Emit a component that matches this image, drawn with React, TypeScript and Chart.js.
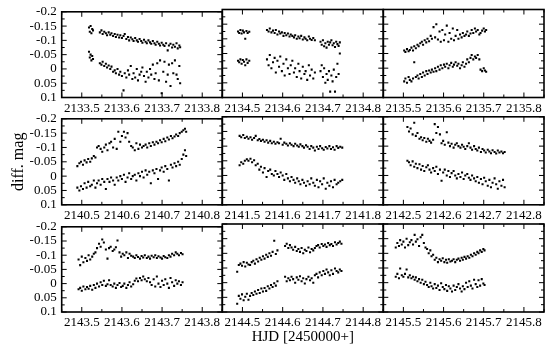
import React, { useEffect, useRef } from "react";
import { Chart, registerables } from "chart.js";

Chart.register(...registerables);
Chart.defaults.font.family = '"Liberation Serif", "DejaVu Serif", serif';
Chart.defaults.color = "#000";

// Base day (HJD - 2450000) of each panel, row by row
const days = [2133, 2134, 2135, 2140, 2141, 2142, 2143, 2144, 2145];
const yTickValues = [-0.2, -0.15, -0.1, -0.05, 0, 0.05, 0.1];
const xTickOffsets = [0.5, 0.6, 0.7, 0.8];
const yLabel = "diff. mag";
const xLabel = "HJD [2450000+]";

// Panel 1 (2133)
const t1 = [.518,.520,.522,.524,.526,.528,.545,.549,.552,.556,.560,.563,.567,.571,.574,.578,.582,.585,.589,.593,.596,.600,.604,.607,.611,.615,.618,.622,.626,.629,.633,.637,.640,.644,.648,.651,.655,.659,.662,.666,.670,.673,.677,.681,.684,.688,.692,.695,.699,.703,.706,.710,.714,.717,.721,.725,.728,.732,.736,.739,.743,.745];
const a1 = [-0.145,-0.13,-0.15,-0.125,-0.14,-0.135,-0.128,-0.135,-0.122,-0.13,-0.125,-0.118,-0.128,-0.12,-0.125,-0.115,-0.122,-0.112,-0.12,-0.11,-0.118,-0.108,-0.115,-0.122,-0.105,-0.112,-0.1,-0.11,-0.104,-0.098,-0.108,-0.1,-0.095,-0.105,-0.098,-0.092,-0.102,-0.095,-0.09,-0.1,-0.093,-0.088,-0.098,-0.09,-0.085,-0.095,-0.088,-0.082,-0.092,-0.085,-0.08,-0.09,-0.065,-0.082,-0.088,-0.075,-0.085,-0.078,-0.09,-0.072,-0.082,-0.076];
const b1 = [-0.06,-0.04,-0.05,-0.03,-0.045,-0.035,-0.02,-0.015,-0.025,-0.01,-0.018,-0.005,-0.012,0.0,-0.008,0.01,0.005,0.015,0.0,0.02,0.01,0.025,0.075,0.015,0.03,0.005,0.02,-0.01,0.035,0.015,0.03,0.0,0.04,0.02,0.01,-0.005,0.025,0.045,0.01,0.03,0.0,0.02,-0.015,0.035,0.015,-0.02,0.04,-0.03,0.085,0.01,-0.025,0.045,0.02,-0.015,0.06,-0.02,0.015,-0.03,0.02,0.035,-0.01,0.05];

// Panel 2 (2134)
const t2 = [.489,.492,.495,.498,.501,.504,.507,.510,.513,.517,.561,.565,.568,.572,.576,.580,.583,.587,.591,.594,.598,.602,.605,.609,.613,.617,.620,.624,.628,.631,.635,.639,.642,.646,.650,.654,.657,.661,.665,.668,.672,.676,.680,.694,.697,.700,.703,.706,.709,.712,.715,.718,.721,.724,.727,.730,.733,.736,.739,.742];
const a2 = [-0.125,-0.12,-0.13,-0.118,-0.128,-0.122,-0.1,-0.127,-0.12,-0.124,-0.13,-0.125,-0.135,-0.122,-0.128,-0.12,-0.13,-0.115,-0.125,-0.118,-0.122,-0.11,-0.12,-0.112,-0.118,-0.108,-0.115,-0.11,-0.105,-0.112,-0.1,-0.108,-0.102,-0.11,-0.098,-0.105,-0.1,-0.095,-0.108,-0.1,-0.096,-0.103,-0.095,-0.09,-0.08,-0.095,-0.075,-0.085,-0.07,-0.09,-0.08,-0.088,-0.095,-0.078,-0.085,-0.072,-0.09,-0.082,-0.076,-0.088];
const b2 = [-0.025,-0.02,-0.03,-0.015,-0.028,-0.022,-0.01,-0.03,-0.018,-0.025,-0.03,-0.01,-0.045,0.0,-0.02,-0.035,0.015,-0.025,-0.005,-0.04,0.01,-0.015,0.025,-0.03,0.0,0.02,-0.01,-0.025,0.015,0.0,0.03,-0.015,0.01,0.035,-0.005,0.02,0.01,0.04,-0.01,0.025,0.005,0.035,0.015,0.01,-0.01,0.03,0.0,0.05,0.02,0.04,0.01,0.08,0.025,0.045,0.005,0.08,0.03,-0.015,0.02,-0.05];

// Panel 3 (2135)
const t3 = [.502,.505,.509,.513,.516,.520,.524,.527,.531,.535,.538,.542,.546,.549,.553,.557,.560,.564,.568,.571,.575,.579,.582,.586,.590,.593,.597,.601,.604,.608,.612,.615,.619,.623,.626,.630,.634,.637,.641,.645,.648,.652,.656,.659,.663,.667,.670,.674,.678,.681,.685,.689,.692,.696,.700,.703,.706];
const a3 = [-0.06,-0.055,-0.065,-0.058,-0.062,-0.07,-0.06,-0.075,-0.068,-0.08,-0.075,-0.085,-0.09,-0.08,-0.095,-0.088,-0.1,-0.092,-0.11,-0.1,-0.14,-0.105,-0.15,-0.098,-0.125,-0.09,-0.13,-0.095,-0.115,-0.145,-0.09,-0.12,-0.1,-0.135,-0.095,-0.11,-0.13,-0.1,-0.115,-0.105,-0.12,-0.11,-0.115,-0.125,-0.11,-0.118,-0.13,-0.12,-0.135,-0.125,-0.13,-0.115,-0.12,-0.128,-0.135,-0.125,-0.13];
const b3 = [0.045,0.035,0.05,0.03,0.04,0.045,0.035,-0.02,0.03,0.025,0.035,0.02,0.03,0.015,0.025,0.01,0.02,0.008,0.015,0.005,0.012,0.0,0.01,-0.005,0.005,-0.01,0.0,-0.012,-0.005,-0.015,0.0,-0.01,-0.018,-0.005,-0.012,-0.02,-0.008,-0.015,0.0,-0.01,-0.02,-0.005,-0.015,-0.03,-0.02,-0.035,-0.045,-0.03,-0.04,-0.035,-0.045,-0.03,0.005,0.01,0.0,0.008,0.012];

// Panel 4 (2140)
const t4 = [.489,.494,.498,.503,.507,.512,.516,.521,.525,.530,.534,.538,.542,.547,.551,.556,.560,.564,.569,.573,.578,.582,.587,.591,.596,.600,.605,.609,.614,.618,.623,.627,.632,.636,.641,.645,.650,.654,.659,.663,.668,.672,.677,.681,.686,.690,.695,.699,.704,.708,.713,.717,.722,.726,.731,.735,.740,.744,.749,.753,.757,.760];
const a4 = [-0.035,-0.045,-0.05,-0.04,-0.055,-0.048,-0.06,-0.05,-0.062,-0.07,-0.065,-0.1,-0.105,-0.095,-0.085,-0.1,-0.11,-0.09,-0.115,-0.12,-0.1,-0.13,-0.095,-0.155,-0.12,-0.14,-0.155,-0.135,-0.15,-0.12,-0.105,-0.1,-0.09,-0.115,-0.095,-0.11,-0.1,-0.105,-0.11,-0.1,-0.115,-0.105,-0.118,-0.11,-0.12,-0.115,-0.125,-0.118,-0.13,-0.122,-0.135,-0.128,-0.14,-0.132,-0.138,-0.145,-0.14,-0.15,-0.155,-0.16,-0.165,-0.155];
const b4 = [0.04,0.05,0.035,0.045,0.025,0.04,0.02,0.035,0.03,0.015,0.04,0.025,0.015,0.03,0.01,0.02,0.045,0.01,0.02,0.005,0.015,0.03,0.005,0.015,0.0,0.01,-0.005,0.02,0.005,-0.01,0.01,0.0,-0.005,0.015,-0.01,0.0,-0.015,0.005,-0.02,-0.005,-0.015,0.025,-0.02,-0.01,-0.025,0.01,-0.02,-0.03,-0.015,-0.035,-0.025,0.015,-0.04,-0.03,-0.045,-0.035,-0.05,-0.04,-0.06,-0.075,-0.09,-0.07];

// Panel 5 (2141)
const t5 = [.493,.497,.502,.506,.511,.515,.520,.524,.529,.533,.538,.542,.546,.551,.555,.560,.564,.569,.573,.578,.582,.587,.591,.595,.600,.604,.609,.613,.618,.622,.627,.631,.636,.640,.644,.649,.653,.658,.662,.667,.671,.676,.680,.685,.689,.693,.698,.702,.707,.711,.716,.720,.725,.729,.734,.738,.743,.748];
const a5 = [-0.135,-0.13,-0.138,-0.128,-0.132,-0.125,-0.13,-0.122,-0.128,-0.135,-0.12,-0.124,-0.118,-0.122,-0.115,-0.12,-0.112,-0.118,-0.11,-0.115,-0.108,-0.113,-0.11,-0.125,-0.105,-0.112,-0.108,-0.102,-0.11,-0.105,-0.1,-0.108,-0.102,-0.098,-0.106,-0.1,-0.095,-0.103,-0.098,-0.09,-0.1,-0.095,-0.085,-0.098,-0.09,-0.1,-0.093,-0.088,-0.097,-0.092,-0.1,-0.09,-0.096,-0.088,-0.1,-0.094,-0.098,-0.095];
const b5 = [-0.035,-0.045,-0.04,-0.05,-0.055,-0.05,-0.057,-0.045,-0.052,-0.035,-0.04,-0.02,-0.03,-0.01,-0.025,0.005,-0.015,-0.02,-0.005,0.0,-0.015,-0.005,0.005,-0.01,0.0,0.015,-0.005,0.01,0.02,0.005,0.015,0.025,0.01,0.02,0.03,0.015,0.025,0.035,0.02,0.03,0.01,0.025,0.035,0.015,0.04,0.02,0.03,0.01,0.045,0.025,0.035,0.02,0.04,0.015,0.03,0.025,0.02,0.015];

// Panel 6 (2142)
const t6 = [.510,.514,.518,.523,.527,.531,.535,.540,.544,.548,.552,.557,.561,.565,.569,.574,.578,.582,.586,.591,.595,.599,.603,.608,.612,.616,.620,.625,.629,.633,.637,.642,.646,.650,.654,.659,.663,.667,.671,.676,.680,.684,.688,.693,.697,.701,.705,.710,.714,.718,.722,.727,.731,.735,.739,.744,.748,.752];
const a6 = [-0.165,-0.15,-0.16,-0.14,-0.18,-0.135,-0.145,-0.125,-0.13,-0.12,-0.128,-0.115,-0.125,-0.118,-0.112,-0.122,-0.175,-0.145,-0.165,-0.14,-0.11,-0.118,-0.105,-0.147,-0.112,-0.1,-0.108,-0.095,-0.105,-0.11,-0.1,-0.095,-0.105,-0.098,-0.09,-0.1,-0.11,-0.095,-0.088,-0.1,-0.09,-0.085,-0.095,-0.08,-0.09,-0.085,-0.078,-0.088,-0.082,-0.076,-0.086,-0.08,-0.075,-0.085,-0.078,-0.082,-0.076,-0.08];
const b6 = [-0.05,-0.045,-0.035,-0.048,-0.03,-0.04,-0.025,-0.038,-0.02,-0.032,-0.015,-0.028,-0.035,-0.02,-0.01,-0.025,-0.015,-0.03,-0.005,-0.02,0.018,-0.01,-0.02,0.0,-0.015,0.005,-0.008,-0.015,0.0,0.01,-0.005,0.005,-0.01,0.012,0.0,-0.005,0.008,0.015,0.0,0.01,0.02,0.005,0.025,0.012,0.03,0.008,0.02,0.035,0.015,0.04,0.025,0.01,0.03,0.045,0.02,0.035,0.015,0.04];

// Panel 7 (2143)
const t7 = [.492,.496,.500,.504,.509,.513,.517,.521,.526,.530,.534,.538,.543,.547,.551,.555,.560,.564,.568,.572,.577,.581,.585,.589,.594,.598,.602,.606,.611,.615,.619,.623,.628,.632,.636,.640,.645,.649,.653,.657,.662,.666,.670,.674,.679,.683,.687,.691,.696,.700,.704,.708,.713,.717,.721,.725,.730,.734,.738,.742,.747,.751];
const a7 = [-0.085,-0.065,-0.095,-0.075,-0.09,-0.08,-0.1,-0.085,-0.095,-0.105,-0.11,-0.125,-0.14,-0.13,-0.155,-0.145,-0.12,-0.088,-0.125,-0.13,-0.115,-0.12,-0.128,-0.152,-0.11,-0.095,-0.105,-0.1,-0.11,-0.09,-0.105,-0.098,-0.095,-0.09,-0.1,-0.094,-0.088,-0.097,-0.092,-0.1,-0.09,-0.095,-0.088,-0.098,-0.093,-0.1,-0.09,-0.096,-0.092,-0.088,-0.097,-0.093,-0.09,-0.1,-0.095,-0.105,-0.1,-0.11,-0.105,-0.1,-0.108,-0.103];
const b7 = [0.02,0.015,0.025,0.01,0.02,0.012,0.018,0.008,0.022,0.005,0.015,0.0,0.01,-0.005,0.005,-0.01,0.008,0.002,-0.012,0.005,0.01,0.0,0.015,0.005,-0.002,0.012,0.008,0.0,0.015,0.005,-0.005,0.01,0.002,-0.01,-0.018,-0.008,-0.02,-0.012,-0.025,-0.015,-0.008,-0.02,-0.005,0.005,-0.015,0.01,-0.025,0.0,0.012,-0.01,0.005,-0.015,0.0,0.015,-0.02,-0.005,0.008,-0.012,0.0,-0.008,0.005,-0.005];

// Panel 8 (2144)
const t8 = [.487,.491,.495,.499,.503,.507,.511,.515,.519,.523,.527,.531,.535,.539,.543,.547,.551,.555,.559,.563,.567,.571,.575,.579,.583,.587,.606,.610,.614,.618,.622,.626,.631,.635,.639,.643,.647,.651,.655,.659,.664,.668,.672,.676,.680,.684,.688,.692,.697,.701,.705,.709,.713,.717,.721,.725,.730,.734,.738,.742,.746];
const a8 = [-0.037,-0.06,-0.065,-0.058,-0.07,-0.055,-0.068,-0.062,-0.06,-0.07,-0.075,-0.065,-0.08,-0.072,-0.085,-0.078,-0.09,-0.082,-0.095,-0.088,-0.1,-0.092,-0.105,-0.143,-0.098,-0.11,-0.125,-0.133,-0.118,-0.128,-0.12,-0.112,-0.122,-0.108,-0.115,-0.105,-0.118,-0.1,-0.112,-0.108,-0.12,-0.104,-0.115,-0.11,-0.118,-0.125,-0.128,-0.12,-0.132,-0.125,-0.13,-0.122,-0.135,-0.128,-0.132,-0.125,-0.138,-0.13,-0.135,-0.14,-0.133];
const b8 = [0.072,0.045,0.055,0.04,0.06,0.048,0.038,0.058,0.045,0.035,0.042,0.03,0.038,0.025,0.035,0.02,0.03,0.018,0.028,0.012,0.02,0.008,0.015,0.002,0.01,-0.005,-0.02,-0.005,-0.015,-0.008,-0.02,-0.012,0.0,-0.018,-0.01,-0.022,-0.005,-0.015,0.003,-0.012,-0.02,-0.008,-0.015,0.0,-0.025,-0.03,-0.018,-0.035,-0.025,-0.04,-0.03,-0.045,-0.035,-0.025,-0.042,-0.03,-0.048,-0.04,-0.035,-0.045,-0.04];

// Panel 9 (2145)
const t9 = [.481,.485,.489,.492,.496,.500,.504,.508,.512,.516,.520,.524,.528,.531,.535,.539,.543,.547,.551,.555,.559,.563,.567,.570,.574,.578,.582,.586,.590,.594,.598,.602,.606,.609,.613,.617,.621,.625,.629,.633,.637,.641,.645,.648,.652,.656,.660,.664,.668,.672,.676,.680,.684,.687,.691,.695,.699,.702];
const a9 = [-0.12,-0.135,-0.125,-0.145,-0.13,-0.14,-0.12,-0.15,-0.128,-0.138,-0.145,-0.13,-0.163,-0.14,-0.148,-0.125,-0.155,-0.163,-0.135,-0.12,-0.115,-0.1,-0.11,-0.09,-0.095,-0.078,-0.085,-0.07,-0.08,-0.075,-0.083,-0.07,-0.078,-0.068,-0.08,-0.072,-0.075,-0.08,-0.07,-0.078,-0.082,-0.075,-0.085,-0.078,-0.088,-0.082,-0.09,-0.085,-0.095,-0.09,-0.1,-0.095,-0.105,-0.1,-0.11,-0.105,-0.115,-0.11];
const b9 = [-0.02,-0.03,-0.015,-0.048,-0.025,-0.02,-0.03,-0.045,-0.018,-0.025,-0.015,-0.02,-0.01,-0.018,-0.005,-0.012,0.0,-0.01,0.005,-0.003,0.008,0.015,0.0,0.012,0.02,0.005,0.018,0.01,0.025,0.002,0.015,0.022,0.008,0.028,0.012,0.02,0.03,0.01,0.025,0.015,0.005,0.02,0.03,0.012,0.022,0.0,0.015,-0.005,0.01,0.02,-0.01,0.005,0.015,-0.008,0.01,-0.012,0.003,0.008];

const times = [t1, t2, t3, t4, t5, t6, t7, t8, t9];
const upper = [a1, a2, a3, a4, a5, a6, a7, a8, a9];
const lower = [b1, b2, b3, b4, b5, b6, b7, b8, b9];

// Layout (pixels)
const COL_L = [61.7, 222.3, 383.3];
const COL_R = [222.3, 383.3, 544];
const ROW_T = [9.5, 116.8, 224];
const PLOT_H = 88;
const PAGE_H = 345;

const framePlugin = {
  id: "frameTicks",
  afterDatasetsDraw(chart: any) {
    const { ctx, chartArea: a, scales } = chart;
    const xs = scales.x;
    const ys = scales.y;
    ctx.save();
    ctx.strokeStyle = "#000";
    ctx.lineWidth = 1;
    ctx.beginPath();
    for (let k = 0; k <= 8; k++) {
      const px = xs.getPixelForValue(xs.min + k * 0.05);
      const len = k % 2 === 1 ? 5 : 3;
      ctx.moveTo(px, a.bottom);
      ctx.lineTo(px, a.bottom - len);
      ctx.moveTo(px, a.top);
      ctx.lineTo(px, a.top + len);
    }
    for (let k = 0; k <= 12; k++) {
      const py = ys.getPixelForValue(-0.2 + k * 0.025);
      const len = k % 2 === 0 ? 5 : 3;
      ctx.moveTo(a.left, py);
      ctx.lineTo(a.left + len, py);
      ctx.moveTo(a.right, py);
      ctx.lineTo(a.right - len, py);
    }
    ctx.stroke();
    ctx.lineWidth = 1.6;
    ctx.strokeRect(a.left, a.top, a.right - a.left, a.bottom - a.top);
    ctx.restore();
  },
};

function Panel({ idx }: { idx: number }) {
  const ref = useRef<HTMLCanvasElement | null>(null);
  const r = Math.floor(idx / 3);
  const c = idx % 3;
  const L = c === 0 ? 0 : Math.floor(COL_L[c] - 8);
  const W = Math.ceil(COL_R[c] + 6) - L;
  const T = Math.floor(ROW_T[r] - 10);
  const plotBottom = ROW_T[r] + PLOT_H;
  const H = r === 2 ? PAGE_H - T : Math.ceil(plotBottom + 20) - T;

  useEffect(() => {
    const canvas = ref.current;
    if (!canvas) return;
    const day = days[idx];
    const padTop = ROW_T[r] - T;
    const padLeft = c === 0 ? 0 : COL_L[c] - L;
    const padRight = W - (COL_R[c] - L);
    const xAxisH = H - padTop - PLOT_H;
    const pointStyle = {
      showLine: false,
      pointStyle: "rect" as const,
      pointRadius: 1.45,
      pointBorderWidth: 0,
      backgroundColor: "#000",
      borderColor: "#000",
    };
    const yScale: any = {
      type: "linear",
      reverse: true,
      min: -0.2,
      max: 0.1,
      display: c === 0,
      grid: { display: false, drawTicks: false },
      border: { display: false },
      afterBuildTicks: (s: any) => {
        s.ticks = yTickValues.map((v) => ({ value: v }));
      },
      ticks: {
        padding: 5,
        autoSkip: false,
        color: "#000",
        font: { size: 13 },
        callback: (v: any) => String(Number(Number(v).toFixed(3))),
      },
      title:
        r === 1 && c === 0
          ? { display: true, text: yLabel, color: "#000", font: { size: 16, lineHeight: 1 }, padding: { top: 11, bottom: 0 } }
          : { display: false },
    };
    if (c === 0) {
      yScale.afterFit = (s: any) => {
        s.width = COL_L[0];
      };
    }
    const chart = new Chart(canvas, {
      type: "scatter",
      data: {
        datasets: [
          { data: times[idx].map((t, i) => ({ x: day + t, y: upper[idx][i] })), ...pointStyle },
          { data: times[idx].map((t, i) => ({ x: day + t, y: lower[idx][i] })), ...pointStyle },
        ],
      },
      options: {
        animation: false,
        responsive: false,
        devicePixelRatio: 1,
        layout: { padding: { left: padLeft, right: padRight, top: padTop, bottom: 0 } },
        plugins: { legend: { display: false }, tooltip: { enabled: false } },
        scales: {
          x: {
            type: "linear",
            min: day + 0.45,
            max: day + 0.85,
            grid: { display: false, drawTicks: false },
            border: { display: false },
            afterBuildTicks: (s: any) => {
              s.ticks = xTickOffsets.map((o) => ({ value: day + o }));
            },
            afterFit: (s: any) => {
              s.height = xAxisH;
            },
            ticks: {
              padding: 3,
              maxRotation: 0,
              autoSkip: false,
              color: "#000",
              font: { size: 13 },
              callback: (v: any) => Number(v).toFixed(1),
            },
            title:
              r === 2 && c === 1
                ? { display: true, text: xLabel, color: "#000", font: { size: 15, lineHeight: 1 }, padding: { top: 0, bottom: 0 } }
                : { display: false },
          },
          y: yScale,
        },
      },
      plugins: [framePlugin],
    } as any);
    return () => chart.destroy();
  }, [idx]);

  return (
    <canvas
      ref={ref}
      width={W}
      height={H}
      style={{ position: "absolute", left: L, top: T, width: W, height: H }}
    />
  );
}

export default function App() {
  return (
    <div style={{ position: "absolute", left: 0, top: 0, width: 549, height: 345, background: "#fff", overflow: "hidden" }}>
      {days.map((_, i) => (
        <Panel key={i} idx={i} />
      ))}
    </div>
  );
}
